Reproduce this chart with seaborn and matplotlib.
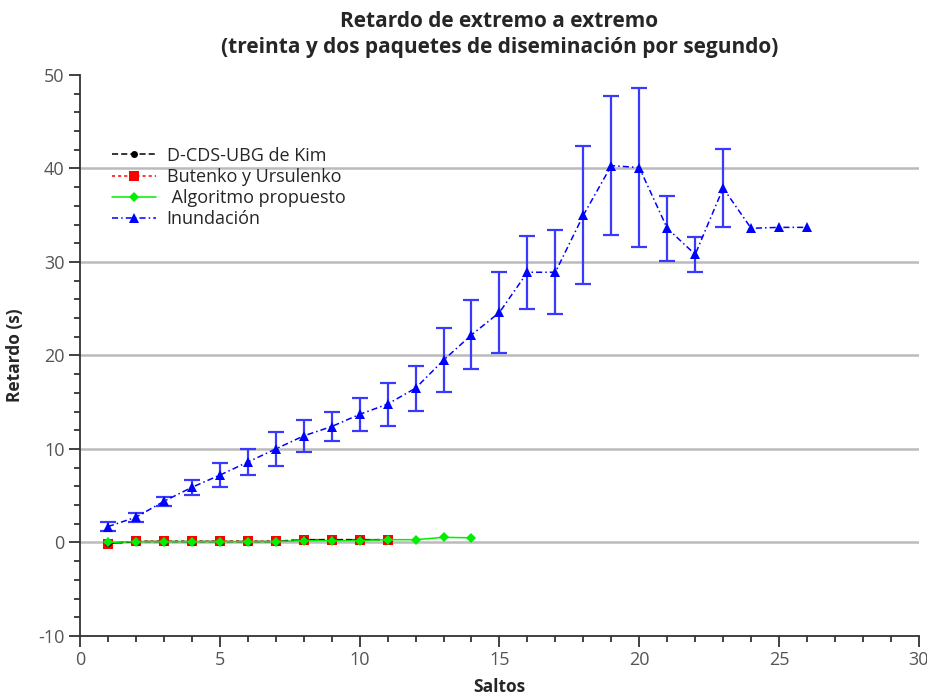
import matplotlib
matplotlib.use("Agg")
import matplotlib.pyplot as plt
from matplotlib.ticker import MultipleLocator
import numpy as np
import pandas as pd
import seaborn as sns

# Hop counts for each protocol
saltos_kim = [1, 2, 3, 4, 5, 6, 7, 8, 9, 10, 11]
saltos_butenko = [1, 2, 3, 4, 5, 6, 7, 8, 9, 10, 11]
saltos_propuesto = [1, 2, 3, 4, 5, 6, 7, 8, 9, 10, 11, 12, 13, 14]
saltos_inundacion = list(range(1, 27))

# Mean end-to-end delay (s)
retardo_kim = [-0.1, 0.1, 0.1, 0.1, 0.1, 0.1, 0.1, 0.3, 0.3, 0.3, 0.3]
retardo_butenko = [-0.15, 0.15, 0.15, 0.15, 0.15, 0.15, 0.15, 0.3, 0.3, 0.3, 0.3]
retardo_propuesto = [0.0, 0.1, 0.1, 0.1, 0.1, 0.1, 0.1, 0.2, 0.2, 0.2, 0.3, 0.3, 0.55, 0.5]
retardo_inundacion = [1.7, 2.7, 4.4, 5.9, 7.2, 8.6, 10.0, 11.4, 12.4, 13.7,
                      14.8, 16.5, 19.5, 22.2, 24.6, 28.9, 28.9, 35.0, 40.3, 40.1,
                      33.6, 30.8, 37.9, 33.6, 33.7, 33.7]
# Half-width of the flooding error bars (s); the last three points have none
error_inundacion = [0.5, 0.5, 0.5, 0.8, 1.3, 1.4, 1.8, 1.7, 1.6, 1.8,
                    2.3, 2.4, 3.4, 3.7, 4.3, 3.9, 4.5, 7.4, 7.4, 8.5,
                    3.5, 1.9, 4.2, 0.0, 0.0, 0.0]

etiquetas = ["D-CDS-UBG de Kim", "Butenko y Ursulenko",
             " Algoritmo propuesto", "Inundación"]

df = pd.concat([
    pd.DataFrame({"Saltos": saltos_kim, "Retardo": retardo_kim, "Serie": etiquetas[0]}),
    pd.DataFrame({"Saltos": saltos_butenko, "Retardo": retardo_butenko, "Serie": etiquetas[1]}),
    pd.DataFrame({"Saltos": saltos_propuesto, "Retardo": retardo_propuesto, "Serie": etiquetas[2]}),
    pd.DataFrame({"Saltos": saltos_inundacion, "Retardo": retardo_inundacion, "Serie": etiquetas[3]}),
], ignore_index=True)

sns.set_style("white")
plt.rcParams["font.family"] = ["Open Sans", "DejaVu Sans"]
plt.rcParams["axes.unicode_minus"] = False

fig = plt.figure(figsize=(9.28, 6.94), dpi=100)
ax = fig.add_axes([0.0862, 0.0836, 0.904, 0.8084])

colores = {etiquetas[0]: "black", etiquetas[1]: "#ff0000",
           etiquetas[2]: "#00ee00", etiquetas[3]: "#0000ff"}
marcadores = {etiquetas[0]: "o", etiquetas[1]: "s",
              etiquetas[2]: "D", etiquetas[3]: "^"}
estilos = {etiquetas[0]: (4, 2), etiquetas[1]: (2, 2),
           etiquetas[2]: "", etiquetas[3]: (4, 2, 1, 2)}
tamanos = {etiquetas[0]: 5, etiquetas[1]: 7, etiquetas[2]: 5, etiquetas[3]: 6.5}

# Flooding error bars (only where a spread was measured), drawn under the lines
err = pd.DataFrame({"x": saltos_inundacion, "y": retardo_inundacion, "e": error_inundacion})
err = err[err["e"] > 0]
ax.errorbar(err["x"], err["y"], yerr=err["e"],
            fmt="none", ecolor="#3a3aff", elinewidth=1.6, capsize=6,
            capthick=1.6, zorder=2)

for etiqueta in [etiquetas[3], etiquetas[1], etiquetas[0], etiquetas[2]]:
    sub = df[df["Serie"] == etiqueta]
    sns.lineplot(data=sub, x="Saltos", y="Retardo", ax=ax,
                 color=colores[etiqueta], marker=marcadores[etiqueta],
                 markersize=tamanos[etiqueta], markeredgewidth=0,
                 dashes=False, linewidth=1.1, label=etiqueta, zorder=3)
    linea = ax.lines[-1]
    if estilos[etiqueta]:
        linea.set_dashes(estilos[etiqueta])

ax.set_xlim(0, 30)
ax.set_ylim(-10, 50)
ax.xaxis.set_major_locator(MultipleLocator(5))
ax.xaxis.set_minor_locator(MultipleLocator(1))
ax.yaxis.set_major_locator(MultipleLocator(10))
ax.yaxis.set_minor_locator(MultipleLocator(2))
ax.tick_params(axis="both", which="major", direction="out", length=8,
               width=1.3, color="#333333", labelsize=13, labelcolor="#555555",
               bottom=True, left=True, pad=3)
ax.tick_params(axis="both", which="minor", direction="out", length=4,
               width=1.3, color="#333333", bottom=True, left=True)

for yv in [0, 10, 20, 30, 40]:
    ax.axhline(yv, color="#bbbbbb", linewidth=1.8, zorder=1)

for lado in ["top", "right"]:
    ax.spines[lado].set_visible(False)
for lado in ["left", "bottom"]:
    ax.spines[lado].set_color("#333333")
    ax.spines[lado].set_linewidth(1.3)

ax.set_xlabel("Saltos", fontsize=12.5, fontweight="bold", labelpad=6)
ax.set_ylabel("Retardo (s)", fontsize=12.5, fontweight="bold", labelpad=10)
ax.set_title("Retardo de extremo a extremo\n(treinta y dos paquetes de diseminación por segundo)",
             fontsize=15, fontweight="bold", pad=16, linespacing=1.3)

handles, labels = ax.get_legend_handles_labels()
orden = [labels.index(e) for e in etiquetas]
ax.legend([handles[i] for i in orden], [labels[i] for i in orden],
          loc="upper left", bbox_to_anchor=(0.03, 0.885), frameon=False,
          fontsize=13, handlelength=2.4, labelspacing=0.18,
          handletextpad=0.6, borderaxespad=0)

fig.savefig("out.png", dpi=100)
